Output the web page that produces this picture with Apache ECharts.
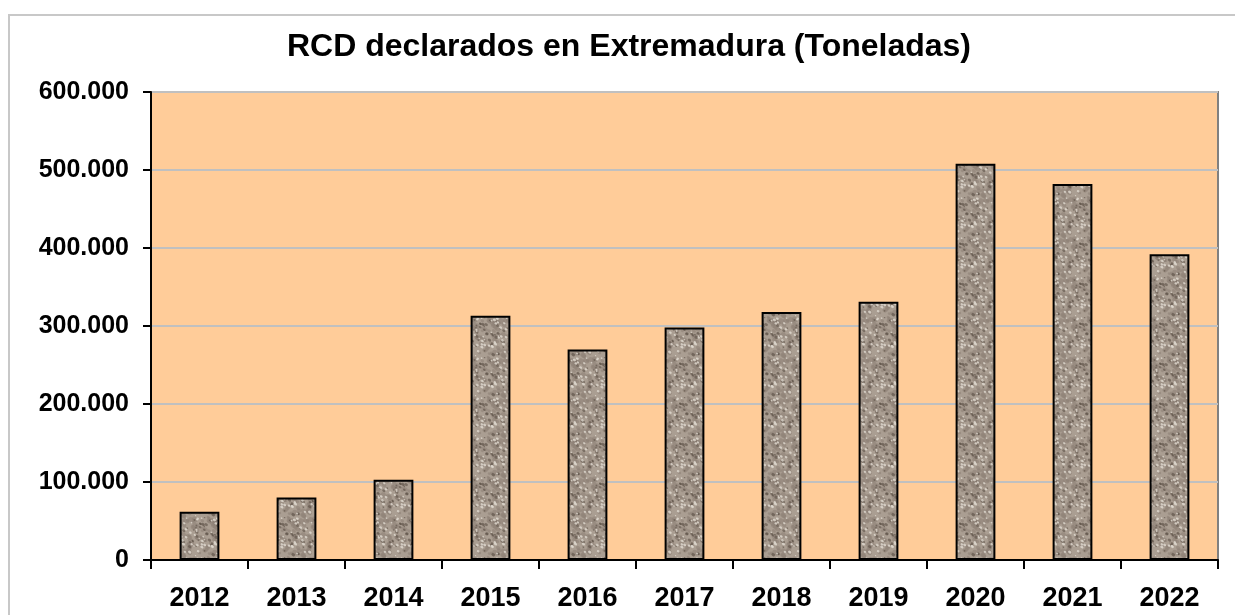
<!DOCTYPE html>
<html>
<head>
<meta charset="utf-8">
<script src="https://cdn.jsdelivr.net/npm/echarts@6/dist/echarts.min.js"></script>
<style>
html,body{margin:0;padding:0;background:#fff;}
#frame{position:absolute;left:8px;top:14px;width:1300px;height:700px;border:2px solid #c8c8c8;box-sizing:border-box;}
#main{position:absolute;left:0;top:0;width:1235px;height:615px;}
</style>
</head>
<body>
<div id="frame"></div>
<div id="main"></div>
<script>
const categories = ['2012','2013','2014','2015','2016','2017','2018','2019','2020','2021','2022'];
const values = [62000, 80000, 103000, 313000, 270000, 298000, 318000, 331000, 508000, 482000, 392000];
const yTicks = [0, 100000, 200000, 300000, 400000, 500000, 600000];
const titleText = 'RCD declarados en Extremadura (Toneladas)';

// granite-like texture (deterministic)
function makeTexture(){
  const c = document.createElement('canvas');
  c.width = 40; c.height = 40;
  const ctx = c.getContext('2d');
  ctx.fillStyle = '#aa9e92';
  ctx.fillRect(0,0,40,40);
  let s = 987654;
  const rnd = () => { s = (s*1103515245 + 12345) & 0x7fffffff; return s/0x7fffffff; };
  const blob = (x, y, r, col) => {
    for (const dx of [-40, 0, 40]) for (const dy of [-40, 0, 40]) {
      ctx.fillStyle = col;
      ctx.beginPath(); ctx.ellipse(x+dx, y+dy, r, r*0.75, 0.6, 0, Math.PI*2); ctx.fill();
    }
  };
  for(let i=0;i<70;i++){
    blob(rnd()*40, rnd()*40, 1.5 + rnd()*2.0, 'rgba(140,128,116,0.55)');
  }
  for(let i=0;i<45;i++){
    blob(rnd()*40, rnd()*40, 0.8 + rnd()*1.2, 'rgba(90,78,68,0.6)');
  }
  for(let i=0;i<45;i++){
    blob(rnd()*40, rnd()*40, 0.7 + rnd()*1.1, 'rgba(230,224,215,0.75)');
  }
  return c;
}
const tex = makeTexture();

const chart = echarts.init(document.getElementById('main'));
const font = "'Liberation Sans', Arial, sans-serif";
chart.setOption({
  animation: false,
  backgroundColor: 'transparent',
  title: {
    text: titleText,
    left: 624, top: 26, textAlign: 'center',
    textStyle: {fontFamily: font, fontWeight: 'bold', fontSize: 32, color: '#000'}
  },
  grid: {left: 151, right: 17, top: 92, bottom: 55, show: true, backgroundColor: '#ffcc99', borderColor: '#808080', borderWidth: 2},
  xAxis: {
    type: 'category', data: categories,
    axisLine: {lineStyle: {color: '#000', width: 2}},
    axisTick: {show: true, length: 9, lineStyle: {color: '#000', width: 2}},
    axisLabel: {fontFamily: font, fontWeight: 'bold', fontSize: 27, color: '#000', margin: 25}
  },
  yAxis: {
    type: 'value', min: 0, max: 600000, interval: 100000,
    axisLine: {show: true, lineStyle: {color: '#000', width: 2}},
    axisTick: {show: true, length: 8, lineStyle: {color: '#000', width: 2}},
    splitLine: {lineStyle: {color: '#c0c0c0', width: 2}},
    axisLabel: {fontFamily: font, fontWeight: 'bold', fontSize: 25, color: '#000', margin: 22,
      formatter: v => yTicks.includes(v) ? String(v).replace(/\B(?=(\d{3})+(?!\d))/g, '.') : ''}
  },
  series: [{
    type: 'bar', data: values, barWidth: '41%',
    itemStyle: {color: {image: tex, repeat: 'repeat'}, borderColor: '#000', borderWidth: 2}
  }]
});
</script>
</body>
</html>
